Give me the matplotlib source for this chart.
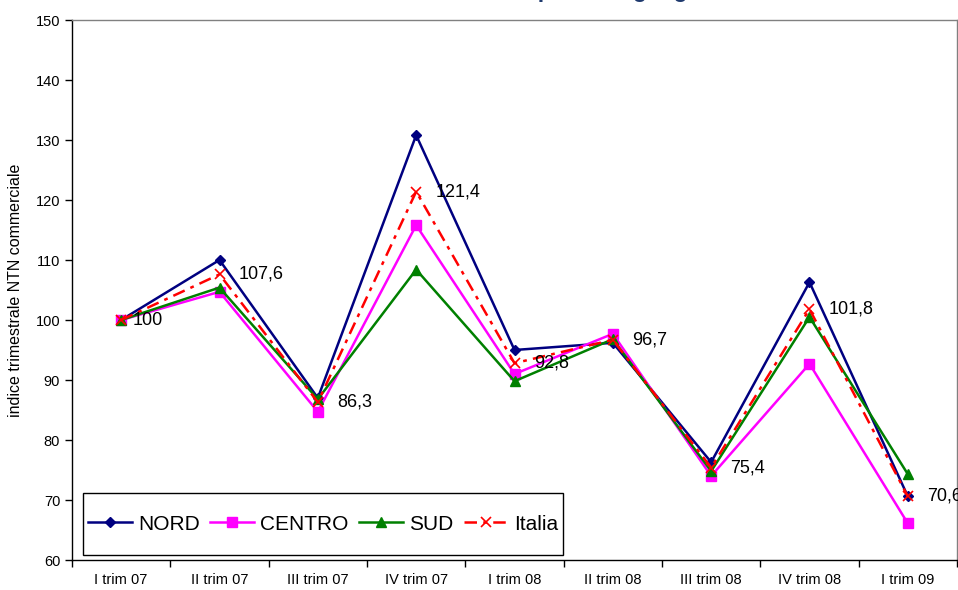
import matplotlib
matplotlib.use("Agg")
import matplotlib.pyplot as plt
from matplotlib.ticker import FixedLocator, MultipleLocator
from matplotlib.patches import Rectangle

categories = ["I trim 07", "II trim 07", "III trim 07", "IV trim 07", "I trim 08",
              "II trim 08", "III trim 08", "IV trim 08", "I trim 09"]
nord = [100, 110.0, 87.0, 130.8, 95.0, 96.2, 76.3, 106.3, 70.6]
centro = [100, 104.7, 84.7, 115.8, 91.0, 97.7, 74.0, 92.7, 66.1]
sud = [100, 105.4, 86.8, 108.4, 89.8, 96.8, 74.8, 100.5, 74.3]
italia = [100, 107.6, 86.3, 121.4, 92.8, 96.7, 75.4, 101.8, 70.6]
italia_labels = ["100", "107,6", "86,3", "121,4", "92,8", "96,7", "75,4", "101,8", "70,6"]
title_prefix = "Indice trimestrale NTN commerciale "
title_rest = "per area geografica"

plt.rcParams['font.family'] = ['Liberation Sans', 'DejaVu Sans']

W, H = 958, 590
fig = plt.figure(figsize=(W/100, H/100), dpi=100)
ax = fig.add_axes([72/W, 1 - 560/H, (957 - 72)/W, 540/H])

x = list(range(len(categories)))
ax.plot(x, nord, color='#000080', lw=1.8, marker='D', markersize=5, label='NORD', zorder=3)
ax.plot(x, centro, color='#FF00FF', lw=1.8, marker='s', markersize=7.5, label='CENTRO', zorder=3)
ax.plot(x, sud, color='#008000', lw=1.8, marker='^', markersize=7.5, label='SUD', zorder=3)
ax.plot(x, italia, color='#FF0000', lw=1.8, linestyle=(0, (5, 2.5, 1.5, 2.5)), marker='x',
        markersize=7, markeredgewidth=1.2, label='Italia', zorder=4)

for i, (xi, yi, lab) in enumerate(zip(x, italia, italia_labels)):
    off = 8 if i == 0 else 14
    ax.annotate(lab, (xi, yi), xytext=(off, 0), textcoords='offset points',
                ha='left', va='center', fontsize=13, color='black', zorder=5)

ax.set_xlim(-0.5, len(categories) - 0.5)
ax.set_ylim(60, 150)
ax.yaxis.set_major_locator(MultipleLocator(10))
ax.set_xticks(x)
ax.set_xticklabels(categories, fontsize=10.5)
ax.xaxis.set_minor_locator(FixedLocator([i - 0.5 for i in range(len(categories) + 1)]))
ax.tick_params(axis='x', which='major', length=0, pad=9)
ax.tick_params(axis='x', which='minor', length=5, direction='out', width=1)
ax.tick_params(axis='y', which='major', length=5, direction='out', labelsize=10.5, width=1)
ax.set_ylabel("indice trimestrale NTN commerciale", fontsize=11.5, labelpad=9)

for side in ('left', 'bottom'):
    ax.spines[side].set_color('#000000')
    ax.spines[side].set_linewidth(1)
for side in ('top', 'right'):
    ax.spines[side].set_color('#808080')
    ax.spines[side].set_linewidth(1)

leg = fig.legend(*ax.get_legend_handles_labels(), loc='center left',
                 bbox_to_anchor=(83/W, 1 - 524/H),
                 ncol=4, fontsize=15, frameon=False,
                 handlelength=2.1, handletextpad=0.3, columnspacing=0.5,
                 borderpad=0.25, borderaxespad=0)

renderer = fig.canvas.get_renderer()
lb = leg.get_window_extent(renderer)
box_h = 62
fig.add_artist(Rectangle((lb.x0 / W, (lb.y0 + lb.height / 2 - box_h / 2) / H),
                         lb.width / W, box_h / H, transform=fig.transFigure,
                         facecolor='white', edgecolor='black', lw=1, zorder=2.5))
leg.set_zorder(3)

# title: mostly cut off at the top edge, only descenders visible
tfs = 16.5
full_title = title_prefix + title_rest
t1 = fig.text(0, 0, full_title, fontsize=tfs, fontweight='bold')
w_all = t1.get_window_extent(renderer).width
t1.remove()
t2 = fig.text(0, 0, title_rest, fontsize=tfs, fontweight='bold')
w_rest = t2.get_window_extent(renderer).width
t2.remove()
x0 = 538 - (w_all - w_rest)
fig.text(x0 / W, 1 + 3.5/H, full_title,
         ha='left', va='baseline', fontsize=tfs, fontweight='bold', color='#1F3A6E')

fig.savefig("out.png", dpi=100)
